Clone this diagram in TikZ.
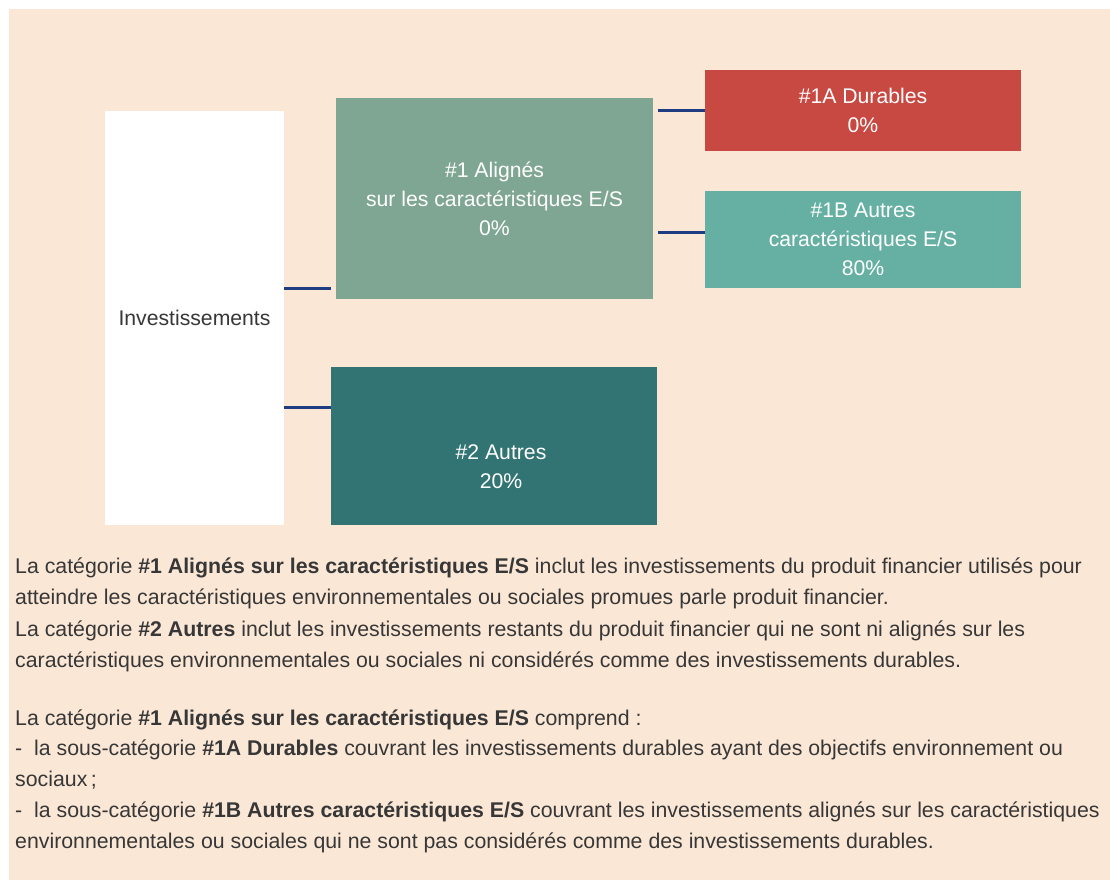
\documentclass[tikz,border=0pt]{standalone}
\usepackage{fontspec}
\setmainfont{Liberation Sans}
\definecolor{bgbeige}{RGB}{250,231,214}
\definecolor{boxone}{RGB}{127,165,147}
\definecolor{boxonea}{RGB}{200,72,66}
\definecolor{boxoneb}{RGB}{101,176,163}
\definecolor{boxtwo}{RGB}{50,116,115}
\definecolor{linkblue}{RGB}{31,61,130}
\definecolor{txtgray}{RGB}{55,55,55}
\begin{document}
\begin{tikzpicture}[x=1pt,y=-1pt,
  catbox/.style={rectangle, inner sep=0pt, outer sep=0pt, text=white, align=center,
     font=\fontsize{21.2}{29}\selectfont},
  link/.style={draw=linkblue, line width=3pt},
  body/.style={anchor=base west, inner sep=0pt, text=txtgray, font=\fontsize{21.3}{31}\selectfont}
]
\useasboundingbox (0,0) rectangle (1110,886);
\fill[white] (0,0) rectangle (1110,886);
\fill[bgbeige] (9,9) rectangle (1110,880);

% boxes
\node[catbox, fill=white, text=txtgray, minimum width=179pt, minimum height=414pt] (inv) at (194.5,318) {Investissements};
\node[catbox, fill=boxone, minimum width=317pt, minimum height=201pt] (one) at (494.5,198.5)
  {\#1 Alignés\\sur les caractéristiques E/S\\0\%};
\node[catbox, fill=boxonea, minimum width=316pt, minimum height=81pt] (onea) at (863,110.5)
  {\#1A Durables\\0\%};
\node[catbox, fill=boxoneb, minimum width=316pt, minimum height=97pt] (oneb) at (863,239.5)
  {\#1B Autres\\caractéristiques E/S\\80\%};
\node[catbox, fill=boxtwo, minimum width=326pt, minimum height=158pt] (two) at (494,446) {};
\node[catbox] (twotxt) at (501,466.5) {\#2 Autres\\20\%};

% connectors
\coordinate (ca) at (331,288);
\coordinate (cb) at (331,407);
\coordinate (cc) at (658,110);
\coordinate (cd) at (658,232);
\draw[link] (inv.east |- ca) -- (ca);
\draw[link] (inv.east |- cb) -- (two.west |- cb);
\draw[link] (cc) -- (onea.west |- cc);
\draw[link] (cd) -- (oneb.west |- cd);

% body text
\node[body] (p1) at (15,573) {La catégorie \textbf{\#1 Alignés sur les caractéristiques E/S} inclut les investissements du produit financier utilisés pour};
\node[body] (p2) at (15,604) {atteindre les caractéristiques environnementales ou sociales promues parle produit financier.};
\node[body] (p3) at (15,636) {La catégorie \textbf{\#2 Autres} inclut les investissements restants du produit financier qui ne sont ni alignés sur les};
\node[body] (p4) at (15,667) {caractéristiques environnementales ou sociales ni considérés comme des investissements durables.};
\node[body] (q1) at (15,725) {La catégorie \textbf{\#1 Alignés sur les caractéristiques E/S} comprend :};
\node[body] (q2) at (15,755) {-\ \ la sous-catégorie \textbf{\#1A Durables} couvrant les investissements durables ayant des objectifs environnement ou};
\node[body] (q3) at (15,786) {sociaux\,;};
\node[body] (q4) at (15,817) {-\ \ la sous-catégorie \textbf{\#1B Autres caractéristiques E/S} couvrant les investissements alignés sur les caractéristiques};
\node[body] (q5) at (15,848) {environnementales ou sociales qui ne sont pas considérés comme des investissements durables.};
\end{tikzpicture}
\end{document}
